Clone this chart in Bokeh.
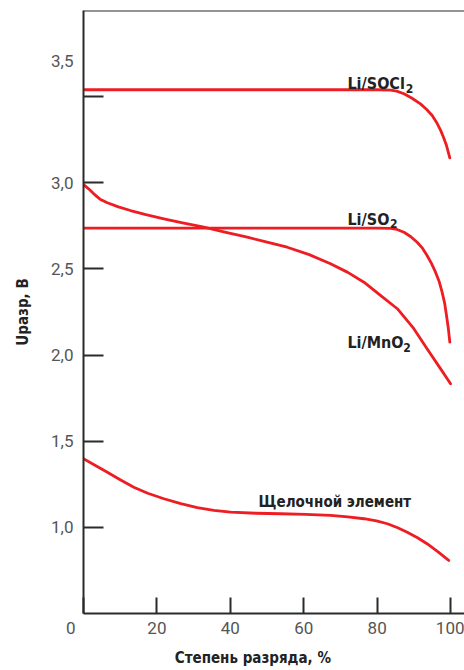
from bokeh.plotting import figure
from bokeh.models import Span, Label, FixedTicker, Range1d
from bokeh.embed import file_html
from bokeh.resources import INLINE

# ---- data (discharge degree %, voltage V) ----
socl2_x = [0, 20, 40, 60, 80, 83.7, 85.3, 87.3, 89.4, 91.8, 93.5, 95.0, 96.2, 97.3, 98.1, 98.9, 99.8]
socl2_y = [3.54, 3.54, 3.54, 3.54, 3.54, 3.538, 3.532, 3.517, 3.492, 3.458, 3.425, 3.391, 3.350, 3.304, 3.263, 3.216, 3.145]

so2_x = [0, 20, 40, 60, 80, 83.7, 85.4, 87.3, 89.1, 90.9, 92.4, 93.6, 94.8, 95.9, 96.9, 97.7, 98.4, 98.9, 99.4, 99.8]
so2_y = [2.737, 2.737, 2.737, 2.737, 2.737, 2.735, 2.729, 2.713, 2.688, 2.655, 2.619, 2.578, 2.532, 2.481, 2.427, 2.365, 2.300, 2.230, 2.154, 2.075]

mno2_x = [0, 1.4, 2.8, 4.5, 6.5, 9.5, 12.8, 17.0, 21.9, 27.0, 32.8, 38.5, 44.6, 50.0, 55.5, 61.5, 67.3, 72.0, 76.4, 80.9, 85.5, 90.0, 93.6, 97.3, 100]
mno2_y = [2.99, 2.965, 2.936, 2.905, 2.884, 2.860, 2.839, 2.815, 2.791, 2.767, 2.742, 2.714, 2.684, 2.656, 2.626, 2.583, 2.530, 2.480, 2.423, 2.346, 2.269, 2.153, 2.037, 1.920, 1.833]

alk_x = [0, 3.0, 6.5, 10.0, 13.7, 17.5, 21.9, 26.5, 31.0, 35.5, 40.1, 47.0, 53.7, 60.5, 67.3, 72.0, 76.4, 79.8, 82.8, 85.6, 88.2, 91.0, 93.6, 96.6, 99.5]
alk_y = [1.398, 1.362, 1.320, 1.276, 1.233, 1.198, 1.166, 1.138, 1.114, 1.098, 1.088, 1.082, 1.079, 1.075, 1.069, 1.061, 1.050, 1.037, 1.021, 0.998, 0.972, 0.940, 0.905, 0.858, 0.808]

NB = "\u00a0"
x_ticks = [0, 20, 40, 60, 80, 100]
x_tick_labels = ["0" + NB * 6, "20", "40", "60", "80", "100"]
y_ticks = [1.0, 1.5, 2.0, 2.5, 3.0, 3.5]
y_tick_labels = ["1,0", "1,5", "2,0", "2,5", "3,0", "3,5\n\n\n"]

RED = "#ee1d23"
AX = "#2b2b2b"
TICKC = "#555555"
BOLD_FONT = "DejaVu Sans Condensed"
TICK_FONT = "Roboto"

p = figure(width=464, height=670, output_backend="svg", toolbar_location=None,
           x_range=Range1d(0, 103.8), y_range=Range1d(0.5, 4.0),
           min_border_left=83, min_border_right=0, min_border_top=10, min_border_bottom=57)
p.outline_line_color = None
p.grid.visible = False
p.background_fill_color = "white"
p.border_fill_color = "white"

for ax in (p.xaxis[0], p.yaxis[0]):
    ax.axis_line_color = AX
    ax.axis_line_width = 2
    ax.major_tick_line_color = AX
    ax.major_tick_line_width = 2
    ax.major_tick_out = 0
    ax.minor_tick_line_color = None
    ax.major_label_text_font = TICK_FONT
    ax.major_label_text_font_style = "normal"
    ax.major_label_text_font_size = "17px"
    ax.major_label_text_color = TICKC
    ax.axis_label_text_font = BOLD_FONT
    ax.axis_label_text_font_style = "bold"
    ax.axis_label_text_font_size = "15px"
    ax.axis_label_text_color = "#222222"

p.xaxis.ticker = FixedTicker(ticks=x_ticks)
p.xaxis.major_label_overrides = dict(zip(x_ticks, x_tick_labels))
p.xaxis.major_tick_in = 16
p.xaxis.major_label_standoff = 4
p.xaxis.axis_label = "Степень разряда, %" + NB * 9
p.xaxis.axis_label_standoff = 8

p.yaxis.ticker = FixedTicker(ticks=y_ticks)
p.yaxis.major_label_overrides = dict(zip(y_ticks, y_tick_labels))
p.yaxis.major_tick_in = 20
p.yaxis.major_label_standoff = 10
p.yaxis.axis_label = "Uразр, В"
p.yaxis.axis_label_standoff = 16

# top frame line
p.add_layout(Span(location=4.0, dimension="width", line_color=AX, line_width=2))

for xs, ys in ((socl2_x, socl2_y), (so2_x, so2_y), (mno2_x, mno2_y), (alk_x, alk_y)):
    p.line(xs, ys, line_color=RED, line_width=2.8, line_join="round", line_cap="round")

def lab(x, y, text, size="16px"):
    p.add_layout(Label(x=x, y=y, text=text, text_font=BOLD_FONT, text_font_size=size,
                       text_font_style="bold", text_color="#222222",
                       text_align="left", text_baseline="alphabetic"))

# series labels (main text + lowered subscript)
lab(71.9, 3.576, "Li/SOCl")
lab(87.8, 3.547, "2", size="12px")
lab(71.9, 2.787, "Li/SO")
lab(83.5, 2.762, "2", size="12px")
lab(71.9, 2.073, "Li/MnO")
lab(87.1, 2.046, "2", size="12px")
lab(47.7, 1.150, "Щелочной элемент", size="15px")

open("out.html", "w").write(file_html(p, INLINE))
